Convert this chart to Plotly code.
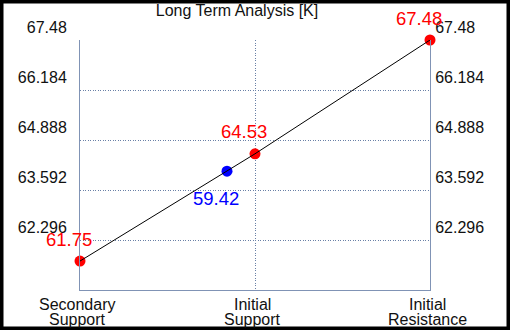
import plotly.graph_objects as go

# ---- data ----
categories = ["Secondary<br>Support", "Initial<br>Support", "Initial<br>Resistance"]
level_values = [61.75, 64.53, 67.48]
level_labels = ["61.75", "64.53", "67.48"]
current_pos = [0.84]          # position along the category axis
current_plot_value = [64.08]  # where the marker sits on the line
current_label = ["59.42"]
y_ticks = [62.296, 63.592, 64.888, 66.184, 67.48]
y_tick_labels = ["62.296", "63.592", "64.888", "66.184", "67.48"]
y_range = [61.0, 67.48]
title_text = "Long Term Analysis [K]"

FONT = "Liberation Sans, Arial, sans-serif"
GRID = "#6a80a6"
AXIS = "#8093b5"

x_idx = list(range(len(categories)))

fig = go.Figure()
fig.add_trace(go.Scatter(x=x_idx, y=level_values, mode="lines",
                         line=dict(color="black", width=1), yaxis="y2",
                         hoverinfo="skip", cliponaxis=False, showlegend=False))
fig.add_trace(go.Scatter(x=x_idx, y=level_values, mode="markers",
                         marker=dict(color="#ff0000", size=11),
                         cliponaxis=False, showlegend=False))
fig.add_trace(go.Scatter(x=current_pos, y=current_plot_value, mode="markers",
                         marker=dict(color="#0000ff", size=11),
                         cliponaxis=False, showlegend=False))

annotations = []
for xi, v, t in zip(x_idx, level_values, level_labels):
    annotations.append(dict(x=xi, y=v, xref="x", yref="y", text=t, showarrow=False,
                            font=dict(family=FONT, size=18.5, color="#ff0000"),
                            xshift=-11, yshift=22))
for xi, v, t in zip(current_pos, current_plot_value, current_label):
    annotations.append(dict(x=xi, y=v, xref="x", yref="y", text=t, showarrow=False,
                            font=dict(family=FONT, size=18.5, color="#0000ff"),
                            xshift=-11, yshift=-27))
for xi, lab in zip(x_idx, categories):
    for li, line in enumerate(lab.split("<br>")):
        annotations.append(dict(x=xi, y=0, xref="x", yref="paper", text=line,
                                showarrow=False, yanchor="middle",
                                font=dict(family=FONT, size=16, color="#111111"),
                                xshift=-3, yshift=-14 - 15 * li))

W, H, L, R, T, B = 510, 330, 80, 80, 40, 40
pw, ph = W - L - R, H - T - B

fig.update_layout(
    width=W, height=H,
    margin=dict(l=L, r=R, t=T, b=B),
    paper_bgcolor="white", plot_bgcolor="white",
    title=dict(text=title_text, x=237 / W, xanchor="center", xref="container",
               y=1 - 10 / H, yanchor="middle", yref="container",
               font=dict(family=FONT, size=16, color="#111111")),
    xaxis=dict(range=[0, 2], tickvals=x_idx, ticktext=[""] * len(x_idx),
               showgrid=True, gridcolor=GRID, griddash="1px,1.5px", gridwidth=1,
               showline=True, linecolor=AXIS, linewidth=1, zeroline=False,
               ticks="", fixedrange=True),
    yaxis=dict(range=y_range, tickvals=y_ticks, ticktext=y_tick_labels,
               showgrid=True, gridcolor=GRID, griddash="1px,1.5px", gridwidth=1,
               showline=True, linecolor=AXIS, linewidth=1, zeroline=False,
               ticks="", ticklabelshift=-13, ticklabelstandoff=9,
               tickfont=dict(family=FONT, size=16, color="#111111")),
    yaxis2=dict(range=y_range, tickvals=y_ticks, ticktext=y_tick_labels,
                overlaying="y", side="right", showgrid=False,
                showline=True, linecolor=AXIS, linewidth=1, zeroline=False,
                ticks="", ticklabelshift=-13, ticklabelstandoff=1,
                tickfont=dict(family=FONT, size=16, color="#111111")),
    annotations=annotations,
    shapes=[dict(type="rect", xref="paper", yref="paper",
                 x0=-L / pw, x1=1 + R / pw, y0=-B / ph, y1=1 + T / ph,
                 line=dict(color="black", width=7), fillcolor="rgba(0,0,0,0)",
                 layer="above")],
)

fig.write_html("out.html", config={"displayModeBar": False},
               post_script="document.body.style.margin='0';document.body.style.overflow='hidden';")
